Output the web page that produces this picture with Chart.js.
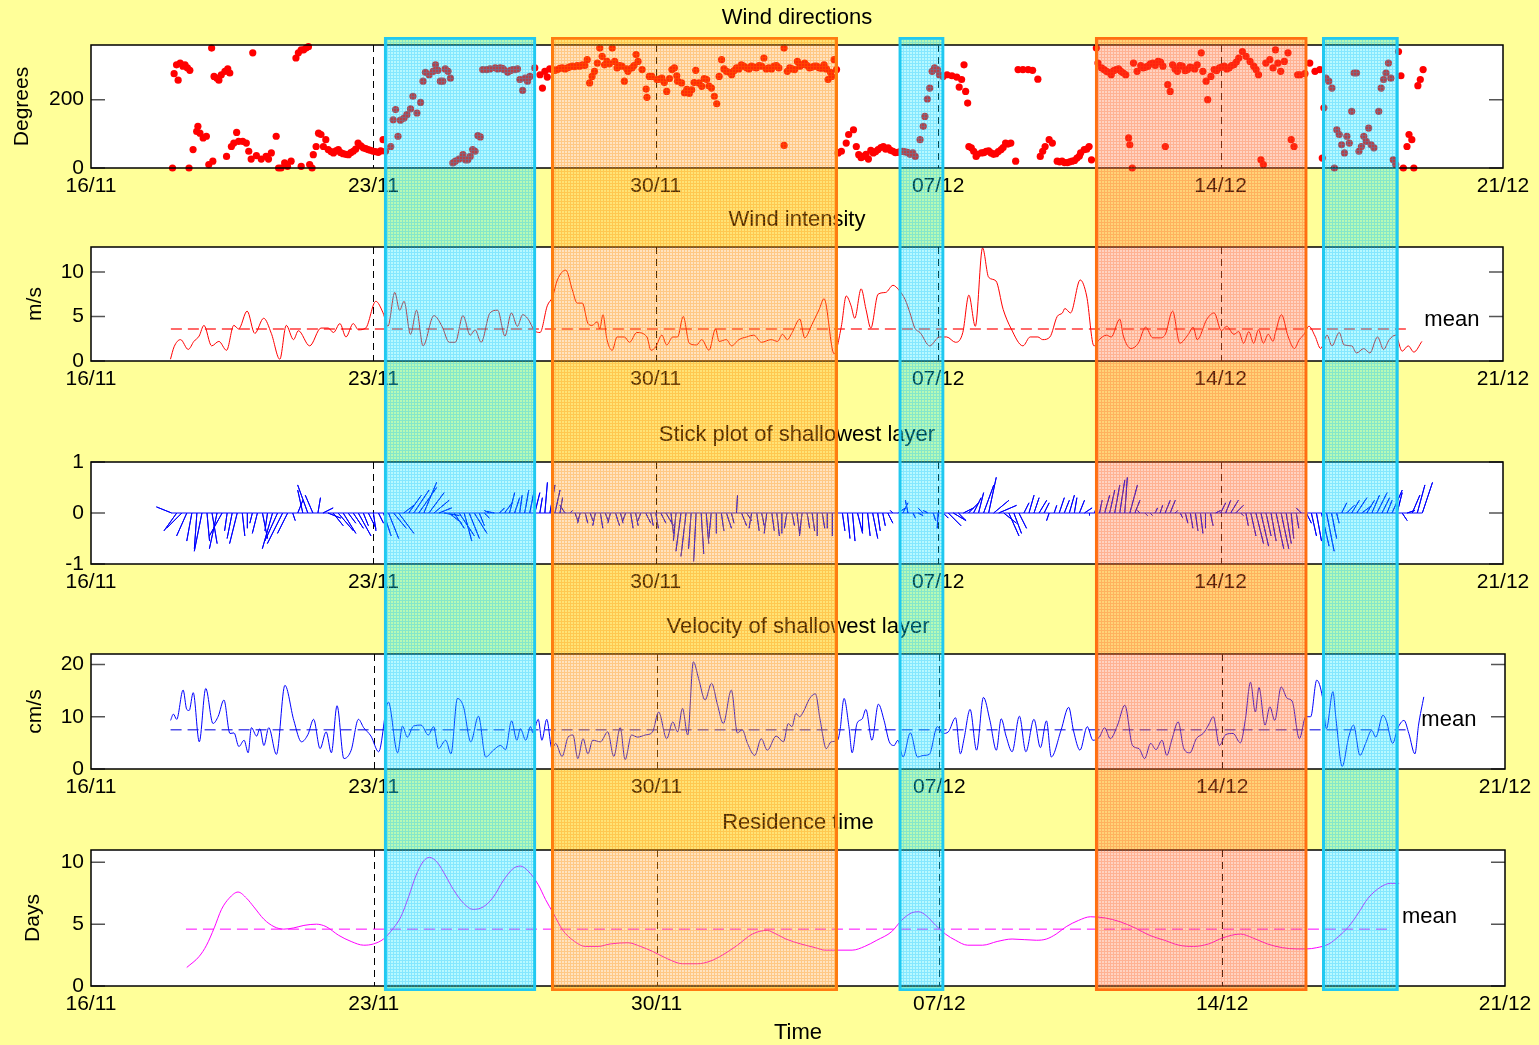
<!DOCTYPE html>
<html>
<head>
<meta charset="utf-8">
<title>Wind, current and residence time</title>
<script src="https://cdn.jsdelivr.net/npm/chart.js@4.4.1/dist/chart.umd.min.js"></script>
<style>
  html, body { margin: 0; padding: 0; background: #ffff99; overflow: hidden; }
  #page { position: relative; width: 1539px; height: 1045px; background: #ffff99; overflow: hidden; }
  #page canvas { position: absolute; left: 0; }
  #periods { pointer-events: none; }
</style>
</head>
<body>
<div id="page"></div>
<script>
// ---- time axis (days since 16/11) ----
const dayTicks = [0, 7, 14, 21, 28, 35];
const dayLabels = ['16/11', '23/11', '30/11', '07/12', '14/12', '21/12'];

// ---- highlighted periods ----
const periodStart = [7.265, 11.41, 20.02, 24.89, 30.52];
const periodEnd   = [11.03, 18.51, 21.15, 30.15, 32.41];
const periodKind  = ['calm', 'event', 'calm', 'storm', 'calm'];

// ---- wind direction (degrees) ----
const dirDays = [
  2.02, 2.06, 2.12, 2.16, 2.21, 2.28, 2.33, 2.39, 2.45, 2.43,
  2.53, 2.62, 2.65, 2.70, 2.78, 2.86, 2.92, 2.99, 3.02, 3.05,
  3.12, 3.17, 3.23, 3.32, 3.39, 3.44, 3.36, 3.48, 3.54, 3.61,
  3.66, 3.76, 3.85, 3.91, 3.97, 4.01, 4.10, 4.22, 4.34, 4.40,
  4.47, 4.59, 4.65, 4.71, 4.80, 4.87, 4.96, 5.08, 5.14, 5.21,
  5.27, 5.33, 5.39, 5.21, 5.42, 5.48, 5.51, 5.58, 5.64, 5.70,
  5.76, 5.82, 5.88, 6.01, 6.13, 6.25, 6.38, 6.50, 6.62, 6.75,
  6.87, 6.99, 7.12, 7.24, 7.30, 7.43, 7.49, 7.55, 7.61, 7.67,
  7.76, 7.83, 7.92, 7.98, 8.08, 8.17, 8.23, 8.29, 8.38, 8.48,
  8.54, 8.60, 8.66, 8.72, 8.78, 8.85, 8.91, 8.97, 9.03, 9.12,
  9.22, 9.28, 9.34, 9.40, 9.46, 9.52, 9.59, 9.65, 9.71, 9.81,
  9.89, 10.02, 10.14, 10.23, 10.33, 10.45, 10.57, 10.63, 10.70, 10.76,
  10.82, 10.88, 11.00, 11.13, 11.19, 11.25, 11.31, 11.44, 11.56, 11.68,
  11.81, 11.93, 12.05, 12.18, 12.30, 12.36, 12.42, 12.48, 12.55, 12.61,
  12.67, 12.73, 12.79, 12.92, 12.98, 13.04, 13.16, 13.22, 13.31, 13.41,
  13.51, 13.56, 13.66, 13.76, 13.78, 13.84, 13.90, 14.03, 14.15, 14.27,
  14.40, 14.46, 14.54, 14.64, 14.71, 14.83, 14.89, 14.99, 15.07, 15.14,
  15.26, 15.38, 15.45, 15.51, 15.57, 15.63, 15.75, 15.88, 16.00, 16.12,
  16.25, 16.37, 16.49, 16.62, 16.68, 16.80, 16.93, 17.05,
  17.18, 17.18, 17.26, 17.32, 17.44, 17.51, 17.57, 17.63, 17.69, 17.81,
  17.93, 18.05, 18.17, 18.27, 18.36, 18.42, 18.48, 18.52, 18.60, 18.72,
  18.78, 18.90, 18.97, 19.03, 19.15, 19.27, 19.39, 19.51, 19.64, 19.76,
  19.88, 20.00, 20.12, 20.24, 20.37, 20.43, 20.55, 20.63, 20.67, 20.73,
  20.79, 20.85, 20.91, 20.98, 21.03, 21.12, 21.22, 21.34, 21.46, 21.52,
  21.58, 21.64, 21.68, 21.73, 21.76, 21.82, 21.88, 21.94, 22.07, 22.19,
  22.31, 22.43, 22.56, 22.67, 22.80, 22.92, 22.98, 23.10, 23.23, 23.34,
  23.47, 23.53, 23.59, 23.65, 23.75, 23.83, 23.95, 24.07, 24.20, 24.32,
  24.44, 24.53, 24.62, 24.74, 24.80, 24.92, 24.96, 25.05, 25.17, 25.29,
  25.41, 25.53, 25.65, 25.72, 25.75, 25.81, 25.84, 25.93, 26.08, 26.20,
  26.32, 26.45, 26.57, 26.63, 26.69, 26.75, 26.81, 26.93, 27.05, 27.18,
  27.30, 27.42, 27.52, 27.56, 27.64, 27.68, 27.76, 27.84, 27.97, 28.09,
  28.21, 28.33, 28.45, 28.54, 28.63, 28.73, 28.82, 28.88, 28.94, 29.00,
  29.06, 29.12, 29.22, 29.30, 29.36, 29.42, 29.49, 29.58, 29.67, 29.75,
  29.82, 29.91, 29.97, 30.09, 30.21, 30.34, 30.46, 30.52, 30.56, 30.61,
  30.68, 30.76, 30.82, 30.88, 30.94, 31.00, 31.07, 31.13, 31.19, 31.25,
  31.31, 31.37, 31.43, 31.49, 31.55, 31.61, 31.67, 31.73, 31.80, 31.92,
  31.98, 32.04, 32.10, 32.16, 32.22, 32.28, 32.34, 32.41, 32.47, 32.53,
  32.62, 32.67, 32.74, 32.79, 32.89, 32.95, 33.02,
  // dense stretches
  5.95, 6.07, 6.19, 6.31, 6.44, 6.56, 6.69, 6.81, 6.93, 7.05,
  7.18, 10.08, 10.20, 10.39, 10.51, 11.37, 11.50, 11.62, 11.75, 11.87,
  11.99, 12.11, 12.24, 12.85, 13.10, 13.28, 13.46, 14.09, 14.21, 14.34,
  14.52, 14.77, 14.95, 15.20, 15.32, 15.69, 15.82, 15.94, 16.06, 16.18,
  16.31, 16.43, 16.56, 16.74, 16.87, 16.99, 17.38, 17.75, 17.87, 17.99,
  18.11, 18.23, 18.33, 19.09, 19.21, 19.33, 19.45, 19.58, 19.70, 19.82,
  19.94, 20.06, 20.18, 20.30, 21.97, 22.13, 22.25, 22.37, 22.49, 22.61,
  22.73, 24.01, 24.13, 24.26, 24.38, 24.50, 24.68, 25.11, 25.23, 25.35,
  25.47, 25.59, 26.02, 26.14, 26.26, 26.38, 26.51, 26.87, 26.99, 27.12,
  27.24, 27.36, 27.90, 28.03, 28.15, 28.27, 28.39
];
const dirDeg = [
  0, 276, 302, 257, 307, 298, 302, 293, 286, 0,
  54, 107, 122, 102, 88, 93, 10, 351, 20, 268,
  263, 257, 273, 283, 290, 278, 34, 63, 73, 104,
  78, 78, 73, 49, 26, 337, 36, 26, 34, 26,
  44, 93, 0, 0, 15, 5, 20, 322, 337, 346,
  346, 351, 355, 5, 10, 0, 39, 63, 102, 98,
  63, 83, 54, 44, 54, 42, 39, 49, 73, 59,
  54, 49, 46, 83, 49, 63, 141, 171, 93, 140,
  146, 156, 173, 210, 161, 192, 254, 280, 273, 283,
  302, 286, 254, 254, 290, 283, 263, 15, 20, 26,
  39, 24, 24, 34, 54, 49, 95, 91, 288, 288,
  290, 293, 293, 288, 280, 288, 290, 259, 227, 263,
  254, 268, 293, 273, 234, 283, 266, 288, 288, 293,
  293, 298, 300, 302, 317, 249, 268, 283, 307, 351,
  327, 302, 312, 351, 312, 293, 298, 254, 283, 293,
  332, 312, 288, 231, 207, 268, 268, 259, 263, 224,
  288, 293, 254, 249, 220, 218, 229, 286, 249, 239,
  259, 234, 210, 188, 268, 317, 283, 273, 293, 302,
  293, 298, 293, 298, 322, 293, 298, 293,
  351, 66, 283, 293, 288, 312, 298, 302, 307, 293,
  298, 293, 302, 259, 268, 317, 288, 44, 49, 73,
  98, 112, 63, 39, 34, 26, 44, 54, 63, 59,
  49, 46, 49, 46, 44, 34, 83, 122, 151, 202,
  234, 283, 293, 288, 273, 268, 273, 270, 266, 237,
  259, 302, 224, 190, 63, 59, 49, 34, 44, 49,
  44, 42, 54, 73, 73, 20, 288, 288, 288, 286,
  260, 34, 49, 63, 83, 73, 20, 20, 16, 20,
  29, 44, 54, 63, 24, 351, 307, 293, 283, 273,
  288, 283, 273, 88, 68, 0, 307, 283, 293, 298,
  307, 312, 298, 63, 244, 224, 302, 283, 298, 288,
  293, 302, 337, 283, 254, 200, 268, 288, 293, 298,
  293, 302, 322, 341, 327, 312, 298, 288, 273, 24,
  10, 307, 317, 293, 346, 307, 283, 312, 337, 83,
  63, 273, 273, 276, 307, 283, 288, 29, 176, 263,
  254, 234, 0, 112, 98, 68, 44, 93, 73, 166,
  278, 278, 49, 63, 93, 78, 117, 68, 59, 166,
  234, 259, 278, 307, 263, 24, 10, 341, 270, 0,
  63, 98, 83, 0, 241, 259, 288,
  48, 50, 45, 40, 45, 55, 65, 57, 52, 48,
  50, 290, 292, 285, 288, 290, 286, 292, 290, 296,
  297, 298, 300, 305, 300, 290, 300, 260, 250, 262,
  270, 230, 250, 262, 240, 290, 280, 285, 290, 298,
  290, 295, 300, 290, 290, 300, 290, 300, 295, 298,
  292, 290, 280, 30, 40, 52, 48, 60, 55, 52,
  45, 48, 47, 40, 40, 45, 50, 40, 48, 60,
  70, 18, 16, 18, 22, 35, 55, 288, 280, 285,
  290, 278, 300, 295, 305, 300, 310, 290, 300, 285,
  295, 290, 285, 295, 290, 300, 310
];

// ---- wind intensity (m/s) ----
const windDays = [
  1.97, 2.06, 2.22, 2.41, 2.55, 2.68, 2.80, 2.99, 3.17, 3.36,
  3.54, 3.66, 3.87, 4.06, 4.28, 4.47, 4.68, 4.84, 5.02, 5.14,
  5.42, 5.70, 5.88, 6.01, 6.17, 6.32, 6.50, 6.63, 6.81, 7.06,
  7.24, 7.36, 7.53, 7.65, 7.76, 7.92, 8.07, 8.23, 8.50, 8.70,
  8.88, 9.03, 9.22, 9.40, 9.52, 9.67, 9.89, 10.08, 10.26, 10.42,
  10.57, 10.70, 10.82, 11.00, 11.13, 11.31, 11.44, 11.56, 11.77, 11.93,
  12.05, 12.18, 12.32, 12.42, 12.55, 12.61, 12.69, 12.79, 12.92, 13.04,
  13.22, 13.35, 13.53, 13.78, 13.88, 14.00, 14.15, 14.27, 14.42, 14.54,
  14.68, 14.83, 15.01, 15.14, 15.32, 15.48, 15.57, 15.75, 15.88, 16.06,
  16.25, 16.43, 16.62, 16.86, 17.02, 17.14, 17.26, 17.38, 17.57, 17.69,
  17.87, 18.05, 18.17, 18.42, 18.60, 18.72, 18.84, 18.93, 19.09, 19.21,
  19.33, 19.51, 19.70, 19.88, 20.02, 20.18, 20.30, 20.42, 20.55, 20.79,
  21.03, 21.21, 21.43, 21.61, 21.76, 21.92, 22.10, 22.25, 22.43, 22.61,
  22.80, 23.10, 23.28, 23.47, 23.59, 23.77, 23.95, 24.08, 24.14, 24.28,
  24.52, 24.68, 24.86, 24.99, 25.17, 25.29, 25.50, 25.59, 25.78, 25.96,
  26.14, 26.32, 26.50, 26.63, 26.81, 26.99, 27.20, 27.32, 27.42, 27.66,
  27.84, 28.02, 28.15, 28.33, 28.45, 28.57, 28.70, 28.82, 28.94, 29.06,
  29.18, 29.30, 29.36, 29.51, 29.67, 29.83, 29.95, 30.07, 30.19, 30.34,
  30.48, 30.64, 30.76, 30.94, 31.06, 31.25, 31.37, 31.55, 31.70, 31.89,
  32.04, 32.18, 32.34, 32.50, 32.65, 32.79, 32.99
];
const windSpeed = [
  0.2, 1.6, 2.4, 1.3, 2.2, 2.8, 4.0, 1.7, 2.2, 1.2,
  4.0, 3.6, 5.6, 3.1, 4.8, 3.1, 0.2, 4.0, 2.4, 3.4,
  1.7, 3.7, 3.7, 3.2, 4.2, 2.7, 4.2, 3.5, 3.7, 6.7,
  5.4, 3.9, 7.7, 5.7, 6.7, 3.0, 5.7, 1.7, 5.1, 3.9,
  2.1, 2.1, 5.1, 2.9, 3.5, 2.1, 5.4, 5.7, 2.8, 5.4,
  3.9, 5.2, 4.8, 3.4, 3.2, 6.2, 7.2, 9.1, 10.2, 8.0,
  6.5, 6.5, 4.2, 4.0, 4.4, 3.6, 5.2, 2.4, 1.2, 2.7,
  2.7, 2.1, 3.2, 2.7, 1.2, 1.6, 2.9, 1.8, 2.7, 2.7,
  5.0, 2.0, 1.8, 2.4, 1.2, 3.6, 2.2, 2.4, 1.7, 2.4,
  2.7, 2.9, 2.1, 2.4, 2.2, 3.0, 2.4, 3.2, 4.7, 2.6,
  4.1, 5.8, 7.0, 0.8, 3.9, 7.3, 6.2, 4.8, 8.1, 5.8,
  3.7, 7.5, 7.7, 8.5, 8.0, 6.9, 5.4, 3.7, 3.2, 1.7,
  2.7, 2.7, 2.1, 3.2, 7.4, 3.9, 12.7, 9.4, 9.0, 5.8,
  3.7, 1.7, 2.7, 2.7, 2.4, 2.7, 5.0, 5.4, 5.9, 5.4,
  9.1, 7.3, 1.7, 2.4, 2.9, 2.7, 4.7, 2.8, 1.4, 2.0,
  3.8, 2.6, 2.6, 3.0, 5.6, 2.0, 3.0, 3.8, 2.4, 4.7,
  5.4, 3.4, 3.9, 3.0, 3.3, 2.0, 3.3, 2.0, 3.5, 2.0,
  3.0, 2.2, 3.2, 5.2, 2.8, 1.4, 2.4, 3.0, 3.9, 2.8,
  1.4, 2.9, 1.7, 3.2, 1.8, 1.7, 0.9, 1.4, 0.9, 2.7,
  1.3, 2.4, 2.9, 1.1, 1.7, 1.0, 2.2
];
const windMean = 3.6;
const windMeanSpan = [1.98, 32.63];

// ---- stick plot of the shallowest layer (east / north components, 3-hourly) ----
const stickDays = [
  2.000, 2.125, 2.250, 2.375, 2.500, 2.625, 2.750, 2.875, 3.000, 3.125,
  3.250, 3.375, 3.500, 3.625, 3.750, 3.875, 4.000, 4.125, 4.250, 4.375,
  4.500, 4.625, 4.750, 4.875, 5.000, 5.125, 5.250, 5.375, 5.500, 5.625,
  5.750, 5.875, 6.000, 6.125, 6.250, 6.375, 6.500, 6.625, 6.750, 6.875,
  7.000, 7.125, 7.250, 7.375, 7.500, 7.625, 7.750, 7.875, 8.000, 8.125,
  8.250, 8.375, 8.500, 8.625, 8.750, 8.875, 9.000, 9.125, 9.250, 9.375,
  9.500, 9.625, 9.750, 9.875, 10.000, 10.125, 10.250, 10.375, 10.500, 10.625,
  10.750, 10.875, 11.000, 11.125, 11.250, 11.375, 11.500, 11.625, 11.750, 11.875,
  12.000, 12.125, 12.250, 12.375, 12.500, 12.625, 12.750, 12.875, 13.000, 13.125,
  13.250, 13.375, 13.500, 13.625, 13.750, 13.875, 14.000, 14.125, 14.250, 14.375,
  14.500, 14.625, 14.750, 14.875, 15.000, 15.125, 15.250, 15.375, 15.500, 15.625,
  15.750, 15.875, 16.000, 16.125, 16.250, 16.375, 16.500, 16.625, 16.750, 16.875,
  17.000, 17.125, 17.250, 17.375, 17.500, 17.625, 17.750, 17.875, 18.000, 18.125,
  18.250, 18.375, 18.500, 18.625, 18.750, 18.875, 19.000, 19.125, 19.250, 19.375,
  19.500, 19.625, 19.750, 19.875, 20.000, 20.125, 20.250, 20.375, 20.500, 20.625,
  20.750, 20.875, 21.000, 21.125, 21.250, 21.375, 21.500, 21.625, 21.750, 21.875,
  22.000, 22.125, 22.250, 22.375, 22.500, 22.625, 22.750, 22.875, 23.000, 23.125,
  23.250, 23.375, 23.500, 23.625, 23.750, 23.875, 24.000, 24.125, 24.250, 24.375,
  24.500, 24.625, 24.750, 24.875, 25.000, 25.125, 25.250, 25.375, 25.500, 25.625,
  25.750, 25.875, 26.000, 26.125, 26.250, 26.375, 26.500, 26.625, 26.750, 26.875,
  27.000, 27.125, 27.250, 27.375, 27.500, 27.625, 27.750, 27.875, 28.000, 28.125,
  28.250, 28.375, 28.500, 28.625, 28.750, 28.875, 29.000, 29.125, 29.250, 29.375,
  29.500, 29.625, 29.750, 29.875, 30.000, 30.125, 30.250, 30.375, 30.500, 30.625,
  30.750, 30.875, 31.000, 31.125, 31.250, 31.375, 31.500, 31.625, 31.750, 31.875,
  32.000, 32.125, 32.250, 32.375, 32.500, 32.625, 32.750, 32.875, 33.000
];
const stickU = [
  -0.30, -0.25, -0.30, -0.20, -0.10, -0.05, -0.15, 0.05, 0.10, -0.15,
  -0.25, -0.05, -0.10, -0.15, 0.05, 0.00, -0.05, -0.10, 0.10, -0.05,
  -0.20, -0.25, -0.30, -0.20, 0.05, 0.10, -0.10, -0.20, -0.15, 0.05,
  0.20, 0.25, 0.20, 0.30, 0.25, 0.15, 0.20, 0.25, 0.10, 0.15,
  0.05, 0.10, 0.15, 0.20, 0.25, 0.30, 0.20, 0.25, 0.30, 0.35,
  0.25, 0.30, 0.30, 0.25, 0.30, 0.25, 0.20, 0.30, 0.15, 0.20,
  0.25, 0.10, 0.10, -0.10, -0.15, 0.10, 0.15, 0.10, 0.10, 0.05,
  0.08, 0.10, 0.10, 0.05, 0.05, 0.10, 0.10, 0.05, -0.10, 0.05,
  0.05, -0.05, 0.05, 0.05, -0.05, 0.05, 0.05, -0.05, 0.08, 0.05,
  -0.05, 0.05, 0.05, -0.05, 0.10, 0.05, 0.05, 0.10, 0.15, 0.05,
  -0.05, -0.10, -0.10, -0.05, -0.05, 0.05, 0.05, -0.05, 0.00, 0.05,
  0.10, 0.05, 0.02, 0.10, 0.10, -0.05, 0.05, 0.05, -0.05, 0.05,
  0.05, 0.00, -0.05, 0.05, 0.05, -0.05, 0.05, 0.05, 0.00, 0.05,
  0.00, 0.00, -0.02, 0.05, 0.05, 0.05, 0.10, 0.00, 0.05, 0.10,
  0.05, 0.05, 0.10, -0.05, 0.15, 0.10, -0.05, 0.05, 0.10, -0.10,
  -0.10, 0.05, -0.02, 0.10, 0.25, 0.25, 0.15, 0.20, 0.20, 0.15,
  0.10, 0.20, 0.15, 0.30, 0.35, 0.25, 0.20, 0.15, 0.15, 0.10,
  0.10, 0.10, 0.15, 0.10, -0.05, 0.05, 0.10, 0.10, 0.10, 0.05,
  0.10, 0.15, 0.00, 0.05, 0.05, 0.10, 0.10, 0.10, 0.10, 0.05,
  0.15, 0.10, -0.05, 0.05, 0.05, 0.05, 0.05, 0.10, 0.10, 0.05,
  0.05, 0.05, 0.05, 0.05, 0.05, 0.00, 0.05, 0.10, 0.10, 0.10,
  0.15, 0.15, 0.05, 0.05, 0.10, 0.15, 0.15, 0.10, 0.10, 0.15,
  0.15, 0.10, 0.05, 0.05, -0.10, 0.10, 0.10, 0.10, 0.15, 0.15,
  0.10, 0.05, 0.10, 0.15, 0.15, 0.20, 0.20, 0.15, 0.15, 0.20,
  0.15, 0.10, 0.20, 0.10, 0.10, 0.15, 0.15, 0.15, 0.20
];
const stickV = [
  0.12, -0.35, -0.30, -0.45, -0.55, -0.70, -0.75, -0.55, -0.60, -0.70,
  -0.45, -0.35, -0.50, -0.60, -0.45, -0.30, -0.20, -0.40, -0.50, -0.35,
  -0.70, -0.55, -0.60, -0.40, -0.15, 0.25, 0.45, 0.55, 0.35, 0.30,
  0.10, -0.10, -0.25, -0.35, -0.40, -0.20, -0.30, -0.45, -0.25, -0.30,
  -0.35, -0.20, -0.45, -0.50, -0.30, -0.40, 0.15, 0.35, 0.45, 0.50,
  0.60, 0.40, 0.25, 0.10, -0.05, -0.20, -0.30, -0.45, -0.55, -0.50,
  -0.40, -0.25, -0.10, 0.05, 0.03, 0.10, 0.20, 0.40, 0.30, 0.35,
  0.45, 0.50, 0.40, 0.30, 0.60, 0.55, 0.45, 0.30, 0.15, 0.05,
  -0.15, -0.20, -0.20, -0.15, -0.25, -0.30, -0.15, -0.20, -0.25, -0.20,
  -0.15, -0.30, -0.25, -0.15, -0.20, -0.25, -0.30, -0.20, -0.25, -0.40,
  -0.55, -0.75, -0.85, -0.70, -0.95, -0.80, -0.60, -0.50, -0.40, -0.35,
  -0.30, -0.20, 0.35, -0.25, -0.15, -0.30, -0.35, -0.25, -0.40, -0.35,
  -0.45, -0.40, -0.30, -0.25, -0.40, -0.45, -0.30, -0.35, -0.45, -0.30,
  -0.30, -0.45, -0.60, -0.35, -0.50, -0.55, -0.40, -0.35, -0.45, -0.50,
  -0.35, -0.25, -0.20, 0.05, 0.10, 0.20, 0.25, -0.10, -0.05, 0.10,
  0.05, -0.15, -0.30, -0.10, -0.25, -0.15, -0.15, 0.10, 0.20, 0.30,
  0.40, 0.55, 0.70, 0.25, 0.15, -0.20, -0.45, -0.40, -0.30, 0.20,
  0.35, 0.30, 0.25, 0.20, -0.15, 0.15, 0.30, 0.25, 0.35, 0.30,
  0.25, 0.10, -0.05, 0.15, 0.25, 0.35, 0.45, 0.55, 0.65, 0.70,
  0.55, 0.25, 0.05, -0.05, -0.05, 0.10, 0.15, 0.25, 0.25, 0.05,
  -0.10, -0.20, -0.30, -0.35, -0.40, -0.30, -0.25, 0.05, 0.20, 0.25,
  0.25, 0.15, -0.05, -0.25, -0.45, -0.60, -0.65, -0.45, -0.55, -0.70,
  -0.70, -0.60, -0.50, -0.30, 0.10, -0.20, -0.45, -0.55, -0.65, -0.75,
  -0.50, -0.20, 0.20, 0.15, 0.25, 0.30, 0.15, 0.25, 0.35, 0.40,
  0.30, 0.25, 0.45, 0.40, -0.15, 0.05, 0.35, 0.55, 0.60
];

// ---- velocity of the shallowest layer (cm/s) ----
const velDays = [
  1.97, 2.04, 2.12, 2.28, 2.37, 2.43, 2.53, 2.68, 2.84, 3.02,
  3.15, 3.29, 3.44, 3.54, 3.66, 3.79, 3.89, 3.97, 4.10, 4.18,
  4.28, 4.40, 4.59, 4.80, 5.02, 5.21, 5.37, 5.51, 5.67, 5.82,
  5.95, 6.09, 6.26, 6.44, 6.62, 6.75, 6.93, 7.12, 7.36, 7.59,
  7.71, 7.83, 7.98, 8.17, 8.35, 8.48, 8.60, 8.78, 8.91, 9.07,
  9.22, 9.40, 9.59, 9.77, 9.96, 10.14, 10.26, 10.41, 10.54, 10.63,
  10.76, 10.88, 10.94, 11.07, 11.16, 11.28, 11.41, 11.50, 11.66, 11.81,
  11.93, 12.05, 12.18, 12.30, 12.42, 12.61, 12.79, 12.94, 13.10, 13.22,
  13.38, 13.53, 13.72, 13.90, 14.05, 14.25, 14.40, 14.52, 14.64, 14.77,
  14.91, 15.04, 15.20, 15.36, 15.51, 15.65, 15.85, 16.00, 16.12, 16.25,
  16.43, 16.59, 16.74, 16.96, 17.14, 17.26, 17.35, 17.45, 17.54, 17.63,
  17.79, 17.93, 18.05, 18.20, 18.32, 18.48, 18.54, 18.64, 18.76, 18.84,
  18.96, 19.09, 19.18, 19.33, 19.49, 19.63, 19.76, 19.88, 19.97, 20.10,
  20.28, 20.46, 20.61, 20.75, 20.95, 21.09, 21.22, 21.40, 21.52, 21.61,
  21.76, 21.92, 22.09, 22.25, 22.41, 22.53, 22.65, 22.80, 22.98, 23.14,
  23.34, 23.50, 23.65, 23.77, 24.01, 24.20, 24.32, 24.48, 24.66, 24.80,
  24.96, 25.09, 25.23, 25.41, 25.59, 25.78, 25.94, 26.08, 26.23, 26.36,
  26.51, 26.63, 26.75, 26.91, 27.05, 27.20, 27.36, 27.54, 27.66, 27.78,
  27.93, 28.09, 28.27, 28.45, 28.57, 28.70, 28.82, 28.91, 29.06, 29.18,
  29.30, 29.46, 29.61, 29.73, 29.91, 30.07, 30.19, 30.34, 30.48, 30.58,
  30.74, 30.82, 30.97, 31.13, 31.25, 31.41, 31.55, 31.70, 31.80, 31.98,
  32.06, 32.22, 32.34, 32.50, 32.62, 32.77, 32.86, 32.99
];
const velSpeed = [
  9.3, 10.5, 9.5, 15.1, 11.4, 11.2, 14.6, 5.2, 15.4, 8.7,
  10.1, 13.2, 6.8, 6.9, 4.3, 5.5, 3.1, 7.9, 6.3, 7.7,
  4.5, 7.9, 2.8, 16.0, 9.3, 5.2, 6.6, 9.5, 3.9, 7.1,
  3.1, 12.1, 2.0, 3.6, 9.5, 7.9, 6.3, 3.3, 12.8, 3.1,
  8.2, 6.1, 8.2, 8.4, 6.5, 8.1, 3.9, 5.5, 2.9, 13.5,
  11.9, 5.2, 10.1, 2.3, 3.6, 4.5, 3.7, 9.2, 5.5, 7.7,
  5.5, 8.1, 6.9, 9.5, 5.5, 9.5, 3.9, 4.9, 2.4, 6.1,
  6.5, 2.0, 5.8, 2.9, 5.5, 5.2, 7.1, 2.4, 7.9, 1.8,
  6.5, 6.1, 6.5, 7.1, 10.9, 5.8, 9.0, 7.1, 11.6, 6.5,
  20.5, 17.3, 13.2, 16.4, 12.2, 8.7, 15.1, 6.9, 7.5, 4.9,
  2.6, 5.8, 3.6, 6.3, 5.2, 8.7, 8.1, 10.6, 10.0, 10.9,
  13.5, 14.4, 9.3, 3.9, 5.2, 5.5, 7.4, 13.5, 8.1, 3.1,
  8.7, 9.6, 11.4, 5.5, 12.4, 9.3, 5.2, 4.5, 5.5, 2.3,
  6.9, 2.3, 2.6, 2.8, 8.1, 6.8, 7.1, 9.8, 2.9, 5.8,
  11.4, 3.6, 13.7, 9.3, 3.6, 9.6, 6.3, 3.3, 10.1, 3.3,
  9.5, 4.1, 9.2, 2.3, 7.4, 11.8, 7.3, 3.6, 8.1, 5.5,
  6.1, 7.9, 5.8, 8.4, 12.2, 4.5, 3.9, 2.0, 4.9, 3.7,
  5.5, 2.6, 5.5, 9.0, 3.9, 3.1, 5.8, 6.9, 8.4, 10.0,
  4.5, 6.6, 6.8, 5.0, 9.3, 16.6, 10.9, 15.6, 8.4, 11.9,
  9.3, 15.7, 13.5, 13.0, 5.8, 10.0, 10.0, 17.0, 13.8, 7.7,
  14.8, 9.3, 0.5, 6.1, 8.4, 2.6, 4.9, 7.4, 6.1, 10.3,
  9.3, 4.9, 7.7, 9.3, 6.8, 2.9, 8.4, 13.8
];
const velMean = 7.5;
const velMeanSpan = [1.97, 32.65];

// ---- residence time (days) ----
const resDays = [
  2.37, 2.68, 2.86, 3.05, 3.23, 3.42, 3.64, 3.85, 4.03, 4.28,
  4.53, 4.77, 5.02, 5.27, 5.58, 5.82, 6.13, 6.44, 6.75, 6.99,
  7.24, 7.49, 7.67, 7.86, 8.04, 8.23, 8.38, 8.57, 8.78, 8.97,
  9.22, 9.46, 9.71, 9.96, 10.20, 10.45, 10.63, 10.82, 11.07, 11.25,
  11.44, 11.68, 11.93, 12.24, 12.55, 12.85, 13.29, 13.60, 13.90, 14.27,
  14.64, 15.01, 15.32, 15.63, 16.00, 16.37, 16.74, 16.84, 17.20, 17.57,
  17.93, 18.17, 18.84, 19.15, 19.45, 19.82, 20.06, 20.30, 20.49, 20.67,
  20.91, 21.15, 21.40, 21.70, 22.07, 22.43, 22.80, 23.40, 23.65, 23.89,
  24.14, 24.44, 24.74, 25.11, 25.47, 25.84, 26.20, 26.57, 26.93, 27.29,
  27.66, 28.02, 28.45, 28.75, 29.12, 29.49, 29.85, 30.09, 30.34, 30.64,
  30.88, 31.13, 31.37, 31.61, 31.92, 32.16, 32.38
];
const resTime = [
  1.5, 2.4, 3.3, 4.7, 6.2, 7.1, 7.6, 7.1, 6.4, 5.4,
  4.8, 4.6, 4.7, 4.9, 5.0, 4.8, 4.1, 3.6, 3.3, 3.4,
  3.8, 4.7, 5.6, 7.2, 8.9, 10.1, 10.4, 10.0, 8.9, 7.8,
  6.7, 6.2, 6.4, 7.2, 8.5, 9.5, 9.7, 9.3, 8.2, 7.0,
  5.9, 4.5, 3.7, 3.2, 3.2, 3.4, 3.5, 3.2, 2.8, 2.2,
  1.8, 1.8, 2.0, 2.5, 3.3, 4.2, 4.5, 4.4, 3.8, 3.4,
  3.1, 2.9, 2.9, 3.2, 3.7, 4.4, 5.3, 5.9, 6.0, 5.7,
  4.9, 4.2, 3.7, 3.3, 3.3, 3.6, 3.8, 3.7, 3.8, 4.2,
  4.8, 5.3, 5.6, 5.5, 5.2, 4.7, 4.1, 3.7, 3.3, 3.2,
  3.4, 3.9, 4.2, 3.9, 3.4, 3.1, 3.0, 3.0, 3.1, 3.4,
  4.0, 4.8, 5.9, 7.1, 8.0, 8.3, 8.3
];
const resMean = 4.6;
const resMeanSpan = [2.35, 32.1];

// ---------------------------------------------------------------
const FONT = "'Liberation Sans', Arial, Helvetica, sans-serif";
Chart.defaults.font.family = FONT;
Chart.defaults.color = '#000';

const PLOT_LEFT = 91;
const TITLE_BAND = 45;

// panel frames: top / bottom of the plot box, right edge, height reserved below
const layout = {
  dir:   { top: 45,  bottom: 168, right: 1503, below: 40 },
  wind:  { top: 247, bottom: 361, right: 1503, below: 40 },
  stick: { top: 462, bottom: 564, right: 1503, below: 40 },
  vel:   { top: 654, bottom: 769, right: 1505, below: 40 },
  res:   { top: 850, bottom: 986, right: 1505, below: 60 }
};

const page = document.getElementById('page');
function makeCanvas(id, top, height) {
  const c = document.createElement('canvas');
  c.id = id; c.width = 1539; c.height = height;
  c.style.top = top + 'px';
  page.appendChild(c);
  return c;
}

// white plot box, dashed week lines, inner ticks, frame and "mean" labels
const framePlugin = {
  id: 'frame',
  beforeDraw(chart) {
    const a = chart.chartArea, c = chart.ctx;
    c.save();
    c.fillStyle = '#ffffff';
    c.fillRect(a.left, a.top, a.right - a.left, a.bottom - a.top);
    c.restore();
  },
  beforeDatasetsDraw(chart) {
    const a = chart.chartArea, c = chart.ctx, xs = chart.scales.x;
    c.save();
    c.strokeStyle = '#000';
    c.lineWidth = 1;
    c.setLineDash([7, 5]);
    dayTicks.slice(1, -1).forEach(d => {
      const px = Math.round(xs.getPixelForValue(d)) + 0.5;
      c.beginPath(); c.moveTo(px, a.top); c.lineTo(px, a.bottom); c.stroke();
    });
    c.restore();
  },
  afterDatasetsDraw(chart, args, opts) {
    const a = chart.chartArea, c = chart.ctx, xs = chart.scales.x, ys = chart.scales.y;
    c.save();
    c.strokeStyle = '#555';
    c.lineWidth = 1.5;
    (opts.yTicks || []).forEach(v => {
      const py = ys.getPixelForValue(v);
      c.beginPath();
      c.moveTo(a.left, py); c.lineTo(a.left + 14, py);
      c.moveTo(a.right - 14, py); c.lineTo(a.right, py);
      c.stroke();
    });
    c.strokeStyle = '#000';
    c.lineWidth = 1.5;
    c.strokeRect(a.left, a.top, a.right - a.left, a.bottom - a.top);
    if (opts.meanAt) {
      c.fillStyle = '#000';
      c.font = '22px ' + FONT;
      c.textAlign = 'left';
      c.textBaseline = 'middle';
      c.fillText('mean', xs.getPixelForValue(opts.meanAt[0]), ys.getPixelForValue(opts.meanAt[1]));
    }
    c.restore();
  }
};

function panel(id, box, o) {
  const height = box.bottom - box.top + TITLE_BAND + box.below;
  const canvas = makeCanvas(id, box.top - TITLE_BAND, height);
  return new Chart(canvas, {
    type: 'scatter',
    data: { datasets: o.datasets },
    plugins: [framePlugin],
    options: {
      responsive: false,
      animation: false,
      events: [],
      layout: { padding: { left: 0, right: 1539 - box.right, top: 0, bottom: 0 } },
      plugins: {
        legend: { display: false },
        tooltip: { enabled: false },
        title: {
          display: true, text: o.title, fullSize: false, color: '#000',
          font: { size: 22, weight: 'normal' },
          padding: { top: 4.8, bottom: 13.8 }
        },
        frame: { yTicks: o.yTicks, meanAt: o.meanAt }
      },
      scales: {
        x: {
          type: 'linear', min: 0, max: 35,
          grid: { display: false, drawTicks: false },
          border: { display: false },
          afterBuildTicks: s => { s.ticks = dayTicks.map(v => ({ value: v })); },
          afterFit: s => { s.height = box.below; },
          ticks: {
            padding: 5.4, color: '#000', font: { size: 21 }, maxRotation: 0, autoSkip: false,
            callback: v => dayLabels[dayTicks.indexOf(v)]
          },
          title: o.xTitle
            ? { display: true, text: o.xTitle, color: '#000', font: { size: 22 }, padding: { top: 0, bottom: 0 } }
            : { display: false }
        },
        y: {
          type: 'linear', min: o.ymin, max: o.ymax,
          grid: { display: false, drawTicks: false },
          border: { display: false },
          afterBuildTicks: s => { s.ticks = o.yTicks.map(v => ({ value: v })); },
          afterFit: s => { s.width = PLOT_LEFT; },
          ticks: { padding: 7, color: '#000', font: { size: 21 }, autoSkip: false, callback: v => String(v) },
          title: { display: true, text: o.yTitle, color: '#000', font: { size: 21 }, padding: { top: o.yTitlePad, bottom: 0 } }
        }
      }
    }
  });
}

const pts = (xs, ys) => xs.map((x, i) => ({ x, y: ys[i] }));
const meanLine = (span, value, color, width) => ({
  data: [{ x: span[0], y: value }, { x: span[1], y: value }],
  showLine: true, borderColor: color, borderWidth: width, borderDash: [11, 6],
  pointRadius: 0, fill: false
});
const seriesLine = (xs, ys, color) => ({
  data: pts(xs, ys), showLine: true, borderColor: color, borderWidth: 1,
  pointRadius: 0, cubicInterpolationMode: 'monotone', fill: false
});

// stick tips: east component drawn along time with the same pixel length per unit as north
const stickBox = layout.stick;
const stickAspect = ((stickBox.bottom - stickBox.top) / 2) / ((stickBox.right - PLOT_LEFT) / 35);
const stickPath = [];
stickDays.forEach((t, i) => {
  stickPath.push({ x: t, y: 0 });
  stickPath.push({ x: t + stickU[i] * stickAspect, y: stickV[i] });
  stickPath.push({ x: t, y: 0 });
});

panel('dirChart', layout.dir, {
  title: 'Wind directions', yTitle: 'Degrees', yTitlePad: 9.4,
  ymin: 0, ymax: 360, yTicks: [0, 200],
  datasets: [{
    data: pts(dirDays, dirDeg), showLine: false, pointRadius: 3.6, pointBorderWidth: 0,
    backgroundColor: '#ff0000', borderColor: '#ff0000', clip: false
  }]
});

panel('windChart', layout.wind, {
  title: 'Wind intensity', yTitle: 'm/s', yTitlePad: 22.4,
  ymin: 0, ymax: 12.8, yTicks: [0, 5, 10], meanAt: [33.05, 4.6],
  datasets: [
    seriesLine(windDays, windSpeed, '#ff0000'),
    meanLine(windMeanSpan, windMean, 'rgba(255,80,80,0.85)', 2)
  ]
});

panel('stickChart', layout.stick, {
  title: 'Stick plot of shallowest layer', yTitle: '', yTitlePad: 22.4,
  ymin: -1, ymax: 1, yTicks: [-1, 0, 1],
  datasets: [{
    data: stickPath, showLine: true, borderColor: '#0000ff', borderWidth: 1,
    pointRadius: 0, tension: 0, fill: false
  }]
});

panel('velChart', layout.vel, {
  title: 'Velocity of shallowest layer', yTitle: 'cm/s', yTitlePad: 22.4,
  ymin: 0, ymax: 22, yTicks: [0, 10, 20], meanAt: [32.93, 9.3],
  datasets: [
    seriesLine(velDays, velSpeed, '#0000ff'),
    meanLine(velMeanSpan, velMean, 'rgba(60,60,230,0.9)', 1.5)
  ]
});

panel('resChart', layout.res, {
  title: 'Residence time', yTitle: 'Days', yTitlePad: 21, xTitle: 'Time',
  ymin: 0, ymax: 11, yTicks: [0, 5, 10], meanAt: [32.45, 5.6],
  datasets: [
    seriesLine(resDays, resTime, '#ff00ff'),
    meanLine(resMeanSpan, resMean, '#ff00ff', 1)
  ]
});

// ---- highlighted periods, drawn across all panels ----
function hatch(cell, line) {
  const p = document.createElement('canvas');
  p.width = 3; p.height = 3;
  const g = p.getContext('2d');
  g.fillStyle = line;
  g.fillRect(0, 0, 3, 1);
  g.fillRect(0, 1, 1, 2);
  g.fillStyle = cell;
  g.fillRect(1, 1, 2, 2);
  return g.createPattern(p, 'repeat');
}
const periodStyle = {
  calm:  { fill: hatch('rgba(0,232,255,0.28)', 'rgba(0,205,255,0.48)'), edge: '#22c8f0' },
  event: { fill: hatch('rgba(255,155,30,0.28)', 'rgba(255,140,0,0.48)'), edge: '#ff7c10' },
  storm: { fill: hatch('rgba(255,110,50,0.30)', 'rgba(255,95,30,0.48)'), edge: '#ff7010' }
};

const overlay = makeCanvas('periods', 0, 1045);
new Chart(overlay, {
  type: 'bar',
  data: {
    labels: [''],
    datasets: periodStart.map((s, i) => ({
      data: [[s, periodEnd[i]]],
      backgroundColor: periodStyle[periodKind[i]].fill,
      borderColor: periodStyle[periodKind[i]].edge,
      borderWidth: 2.5,
      borderSkipped: false,
      grouped: false,
      barPercentage: 1,
      categoryPercentage: 1
    }))
  },
  options: {
    indexAxis: 'y',
    responsive: false,
    animation: false,
    events: [],
    layout: { padding: { left: PLOT_LEFT, right: 36, top: 37, bottom: 54 } },
    plugins: { legend: { display: false }, tooltip: { enabled: false }, title: { display: false } },
    scales: {
      x: { type: 'linear', min: 0, max: 35, display: false },
      y: { display: false }
    }
  }
});
</script>
</body>
</html>
